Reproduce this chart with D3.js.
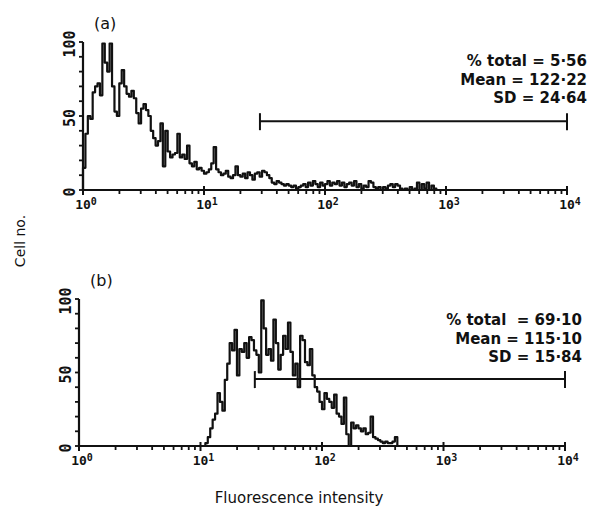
<!DOCTYPE html>
<html>
<head>
<meta charset="utf-8">
<script src="https://cdn.jsdelivr.net/npm/d3@7"></script>
<style>
body { margin: 0; background: #fff; }
text { fill: #111; }
</style>
</head>
<body>
<script>
// channels: 50 per decade on a 4-decade log amplifier
var binsPerDecade = 50;

// panel (a) counts from channel 0
var startA = 0;
var countsA = [
  15, 38, 50, 48, 66, 70, 72, 64, 99, 86,
  80, 99, 70, 53, 50, 72, 81, 70, 65, 63,
  67, 62, 52, 45, 55, 58, 54, 50, 40, 35,
  30, 33, 45, 16, 40, 26, 22, 24, 25, 38,
  22, 24, 21, 30, 18, 16, 19, 14, 15, 13,
  11, 12, 14, 18, 29, 14, 12, 10, 11, 13,
  9, 8, 10, 16, 10, 9, 11, 8, 12, 10,
  7, 11, 12, 9, 13, 12, 10, 8, 5, 4,
  6, 5, 4, 3, 4, 3, 2, 3, 1, 2,
  3, 4, 2, 5, 3, 6, 4, 2, 5, 3,
  4, 6, 3, 5, 4, 6, 3, 5, 2, 4,
  5, 3, 6, 2, 4, 1, 3, 2, 6, 5,
  2, 1, 2, 0, 2, 1, 3, 4, 2, 4,
  3, 1, 0, 1, 0, 2, 0, 1, 5, 0,
  4, 1, 5, 0, 3, 1, 0
];

// panel (b) counts from channel 52
var startB = 52;
var countsB = [
  2, 6, 12, 18, 22, 36, 30, 24,
  45, 56, 70, 65, 79, 48, 66, 64, 70, 60,
  74, 72, 65, 62, 50, 99, 80, 62, 66, 58,
  86, 70, 52, 62, 75, 66, 84, 64, 48, 56,
  40, 75, 72, 57, 55, 66, 48, 40, 37, 30,
  25, 36, 32, 30, 26, 35, 22, 20, 15, 33,
  8, 0, 16, 12, 14, 12, 10, 12, 8, 9,
  20, 6, 5, 4, 3, 2, 3, 2, 2, 3, 6, 0
];

var statsA = ["% total = 5·56", "Mean = 122·22", "SD = 24·64"];
var statsB = ["% total  = 69·10", "Mean = 115·10", "SD = 15·84"];

// gate marker: [from, to, level]
var gateA = [29, 10000, 46.5];
var gateB = [28, 10000, 45.5];

var xMajor = [1, 10, 100, 1000, 10000];
var xExp = ["0", "1", "2", "3", "4"];
var yMajor = [0, 50, 100];
var yMinor = [0, 10, 20, 30, 40, 50, 60, 70, 80, 90, 100];

var xMinor = [];
xMajor.slice(0, 4).forEach(function (d) {
  for (var k = 2; k <= 9; k++) xMinor.push(d * k);
});

var svg = d3.select("body").append("svg")
  .attr("width", 589)
  .attr("height", 508);

function edge(i) { return Math.pow(10, i / binsPerDecade); }

function panel(p) {
  var x = d3.scaleLog().domain([1, 10000]).range([p.left, p.right]);
  var y = d3.scaleLinear().domain([0, 100]).range([p.bottom, p.top]);
  var g = svg.append("g");

  // histogram trace
  var pts = [[edge(p.start), 0]];
  p.counts.forEach(function (c, i) { pts.push([edge(p.start + i), c]); });
  pts.push([edge(p.start + p.counts.length), 0]);
  var line = d3.line()
    .x(function (d) { return x(d[0]); })
    .y(function (d) { return y(d[1]); })
    .curve(d3.curveStepAfter);
  g.append("path")
    .attr("d", line(pts))
    .attr("fill", "none")
    .attr("stroke", "#111")
    .attr("stroke-width", 2.2)
    .attr("stroke-linejoin", "round");

  // axes
  g.append("line")
    .attr("x1", x(1)).attr("x2", x(10000))
    .attr("y1", y(0)).attr("y2", y(0))
    .attr("stroke", "#111").attr("stroke-width", 2.2);
  g.append("line")
    .attr("x1", x(1)).attr("x2", x(1))
    .attr("y1", y(0)).attr("y2", y(100))
    .attr("stroke", "#111").attr("stroke-width", 2.2);

  g.selectAll(".xmin").data(xMinor).enter().append("line")
    .attr("x1", function (d) { return x(d); })
    .attr("x2", function (d) { return x(d); })
    .attr("y1", y(0)).attr("y2", y(0) + 4)
    .attr("stroke", "#111").attr("stroke-width", 1.8);
  g.selectAll(".xmaj").data(xMajor).enter().append("line")
    .attr("x1", function (d) { return x(d); })
    .attr("x2", function (d) { return x(d); })
    .attr("y1", y(0) - 4).attr("y2", y(0) + 5)
    .attr("stroke", "#111").attr("stroke-width", 2);

  g.selectAll(".ymin").data(yMinor).enter().append("line")
    .attr("x1", x(1) - 4).attr("x2", x(1))
    .attr("y1", function (d) { return y(d); })
    .attr("y2", function (d) { return y(d); })
    .attr("stroke", "#111").attr("stroke-width", 1.8);

  // x tick labels
  var xl = g.selectAll(".xl").data(xMajor).enter().append("text")
    .attr("x", function (d) { return x(d) + 3; })
    .attr("y", y(0) + 19)
    .attr("text-anchor", "middle")
    .attr("font-family", "DejaVu Sans Mono")
    .attr("font-weight", "bold")
    .attr("font-size", 13);
  xl.append("tspan").text("10");
  xl.append("tspan")
    .attr("dy", -4)
    .attr("font-size", 10)
    .text(function (d, i) { return xExp[i]; });

  // y tick labels (rotated)
  g.selectAll(".yl").data(yMajor).enter().append("text")
    .attr("transform", function (d) { return "translate(" + (x(1) - 8) + "," + (y(d) + 2) + ") rotate(-90)"; })
    .attr("text-anchor", "middle")
    .attr("font-family", "DejaVu Sans Mono")
    .attr("font-weight", "bold")
    .attr("font-size", 15)
    .text(function (d) { return d; });

  // gate bar
  var gy = y(p.gate[2]);
  g.append("line")
    .attr("x1", x(p.gate[0])).attr("x2", x(p.gate[1]))
    .attr("y1", gy).attr("y2", gy)
    .attr("stroke", "#111").attr("stroke-width", 2);
  [p.gate[0], p.gate[1]].forEach(function (v) {
    g.append("line")
      .attr("x1", x(v)).attr("x2", x(v))
      .attr("y1", gy - 8).attr("y2", gy + 9)
      .attr("stroke", "#111").attr("stroke-width", 2);
  });

  // stats
  g.selectAll(".st").data(p.stats).enter().append("text")
    .attr("x", p.statsX)
    .attr("y", function (d, i) { return p.statsY + i * 18.5; })
    .attr("text-anchor", "end")
    .attr("font-family", "DejaVu Sans")
    .attr("font-weight", "bold")
    .attr("font-size", 15)
    .attr("xml:space", "preserve")
    .style("white-space", "pre")
    .text(function (d) { return d; });

  g.append("text")
    .attr("x", p.labelX).attr("y", p.labelY)
    .attr("font-family", "DejaVu Sans")
    .attr("font-size", 16)
    .text(p.label);
}

panel({ left: 83, right: 567, top: 42, bottom: 190, start: startA, counts: countsA,
  gate: gateA, stats: statsA, statsX: 587, statsY: 66, label: "(a)", labelX: 94, labelY: 29 });
panel({ left: 79, right: 565, top: 299, bottom: 446, start: startB, counts: countsB,
  gate: gateB, stats: statsB, statsX: 582, statsY: 325, label: "(b)", labelX: 90, labelY: 286 });

svg.append("text")
  .attr("transform", "translate(25,241) rotate(-90)")
  .attr("text-anchor", "middle")
  .attr("font-family", "DejaVu Sans")
  .attr("font-size", 14)
  .text("Cell no.");

svg.append("text")
  .attr("x", 299).attr("y", 503)
  .attr("text-anchor", "middle")
  .attr("font-family", "DejaVu Sans")
  .attr("font-size", 15)
  .text("Fluorescence intensity");
</script>
</body>
</html>
